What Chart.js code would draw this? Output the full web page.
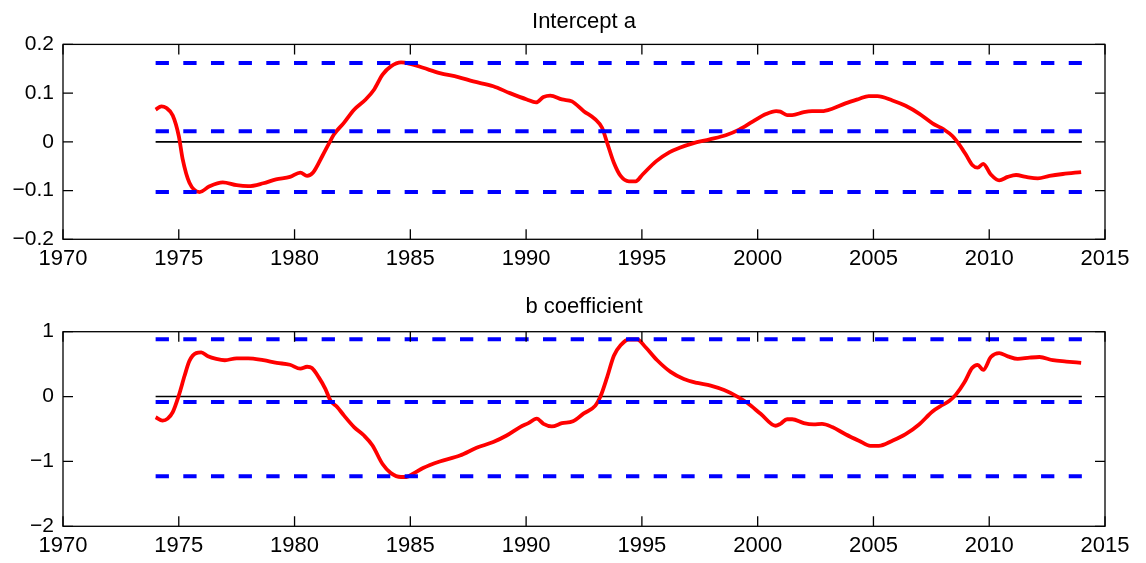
<!DOCTYPE html>
<html lang="en">
<head>
  <meta charset="UTF-8">
  <title>Intercept a / b coefficient</title>
  <script src="https://cdn.jsdelivr.net/npm/chart.js"></script>
  <style>
    body { margin: 0; background: #fff; }
    .panel { position: absolute; left: 0; width: 1146px; }
  </style>
</head>
<body>

  <div class="panel" style="top:0;height:282px"><canvas id="chartA" width="1146" height="282"></canvas></div>
  <div class="panel" style="top:282px;height:281px"><canvas id="chartB" width="1146" height="281"></canvas></div>

<script>
  // time axis
  const xTicks = [1970, 1975, 1980, 1985, 1990, 1995, 2000, 2005, 2010, 2015];
  const lineSpan = [1974, 2014];

  // intercept a
  const aYears = [1974.0, 1974.25, 1974.45, 1974.74, 1975.0, 1975.17, 1975.46, 1975.9, 1976.33, 1976.9,
    1977.5, 1978.0, 1978.65, 1979.2, 1979.8, 1980.25, 1980.54, 1980.8, 1981.2, 1981.5,
    1981.7, 1982.13, 1982.57, 1983.07, 1983.43, 1983.8, 1984.16, 1984.6, 1985.0, 1985.55,
    1986.27, 1987.07, 1987.72, 1988.58, 1989.3, 1990.03, 1990.43, 1990.75, 1991.04, 1991.55,
    1991.98, 1992.49, 1992.99, 1993.28, 1993.5, 1993.79, 1994.08, 1994.44, 1994.73, 1995.03,
    1995.61, 1996.2, 1996.63, 1997.2, 1997.93, 1998.65, 1999.2, 1999.8, 2000.36, 2000.8,
    2000.98, 2001.27, 2001.49, 2001.99, 2002.35, 2002.78, 2003.22, 2003.79, 2004.37, 2004.8,
    2005.17, 2005.82, 2006.39, 2006.97, 2007.55, 2008.05, 2008.41, 2008.7, 2008.99, 2009.28,
    2009.5, 2009.74, 2010.07, 2010.43, 2010.8, 2011.16, 2011.59, 2012.1, 2012.6, 2013.18, 2013.97];
  const aValues = [0.066, 0.073, 0.070, 0.054, 0.012, -0.036, -0.084, -0.103, -0.091, -0.083,
    -0.089, -0.091, -0.085, -0.077, -0.072, -0.063, -0.070, -0.063, -0.029, -0.002,
    0.015, 0.039, 0.066, 0.087, 0.107, 0.138, 0.155, 0.163, 0.160, 0.152,
    0.141, 0.133, 0.124, 0.114, 0.100, 0.087, 0.081, 0.092, 0.095, 0.087,
    0.083, 0.063, 0.046, 0.029, -0.002, -0.043, -0.070, -0.081, -0.081, -0.067,
    -0.040, -0.021, -0.012, -0.003, 0.005, 0.014, 0.025, 0.042, 0.057, 0.063,
    0.062, 0.055, 0.055, 0.061, 0.063, 0.063, 0.068, 0.079, 0.088, 0.094,
    0.094, 0.085, 0.074, 0.058, 0.038, 0.025, 0.012, -0.005, -0.026, -0.048,
    -0.053, -0.045, -0.067, -0.079, -0.072, -0.068, -0.072, -0.075, -0.070, -0.066, -0.062];
  const aBands = [0.162, 0.022, -0.103];
  const aTicks = [-0.2, -0.1, 0, 0.1, 0.2];

  // b coefficient
  const bYears = [1974.0, 1974.3, 1974.52, 1974.74, 1975.0, 1975.25, 1975.46, 1975.75, 1975.97, 1976.26,
    1976.62, 1976.99, 1977.5, 1978.0, 1978.65, 1979.23, 1979.8, 1980.25, 1980.54, 1980.75,
    1981.04, 1981.33, 1981.55, 1981.84, 1982.13, 1982.57, 1983.0, 1983.36, 1983.8, 1984.16,
    1984.6, 1984.83, 1985.12, 1985.55, 1986.27, 1987.14, 1987.86, 1988.58, 1989.16, 1989.74,
    1990.1, 1990.46, 1990.75, 1991.11, 1991.55, 1992.02, 1992.49, 1992.99, 1993.21, 1993.5,
    1993.79, 1994.08, 1994.44, 1994.8, 1995.16, 1995.66, 1996.24, 1996.81, 1997.39, 1997.97,
    1998.55, 1999.12, 1999.56, 2000.14, 2000.77, 2000.98, 2001.27, 2001.49, 2001.99, 2002.42,
    2002.78, 2003.22, 2003.79, 2004.37, 2004.87, 2005.23, 2005.82, 2006.39, 2006.97, 2007.55,
    2007.98, 2008.27, 2008.56, 2008.93, 2009.26, 2009.5, 2009.74, 2010.07, 2010.43, 2010.8,
    2011.23, 2011.74, 2012.17, 2012.75, 2013.33, 2013.97];
  const bValues = [-0.32, -0.37, -0.34, -0.24, 0.015, 0.32, 0.55, 0.67, 0.68, 0.62,
    0.58, 0.56, 0.59, 0.59, 0.56, 0.52, 0.49, 0.43, 0.46, 0.44,
    0.30, 0.12, -0.06, -0.16, -0.29, -0.47, -0.60, -0.75, -1.04, -1.18,
    -1.24, -1.24, -1.19, -1.10, -1.00, -0.91, -0.79, -0.70, -0.60, -0.47,
    -0.41, -0.34, -0.42, -0.46, -0.41, -0.38, -0.26, -0.14, 0.0, 0.30,
    0.63, 0.79, 0.88, 0.88, 0.76, 0.56, 0.38, 0.27, 0.21, 0.17,
    0.10, 0.0, -0.10, -0.27, -0.45, -0.42, -0.35, -0.35, -0.41, -0.43,
    -0.42, -0.47, -0.58, -0.68, -0.76, -0.76, -0.68, -0.58, -0.43, -0.23,
    -0.13, -0.07, 0.03, 0.22, 0.44, 0.49, 0.41, 0.61, 0.67, 0.62,
    0.58, 0.60, 0.61, 0.56, 0.54, 0.52];
  const bBands = [0.883, -0.083, -1.228];
  const bTicks = [-2, -1, 0, 1];

  const fontFamily = '"Liberation Sans", Arial, Helvetica, sans-serif';
  Chart.defaults.font.family = fontFamily;
  Chart.defaults.color = '#000';

  const fmt = v => String(+v.toFixed(2)).replace('-', '\u2212');

  // matlab style frame: box round the plot area, ticks pointing inwards on all four sides,
  // title centred over the plot area (not over the whole canvas)
  const framePlugin = {
    id: 'frame',
    afterDraw(chart) {
      const { ctx, chartArea: a, scales } = chart;
      const opts = chart.options.frame;
      const len = 10;
      ctx.save();
      ctx.strokeStyle = '#000';
      ctx.lineWidth = 1.3;
      ctx.strokeRect(a.left, a.top, a.right - a.left, a.bottom - a.top);
      ctx.beginPath();
      xTicks.forEach(v => {
        const px = scales.x.getPixelForValue(v);
        ctx.moveTo(px, a.bottom); ctx.lineTo(px, a.bottom - len);
        ctx.moveTo(px, a.top); ctx.lineTo(px, a.top + len);
      });
      opts.yTicks.forEach(v => {
        const py = scales.y.getPixelForValue(v);
        ctx.moveTo(a.left, py); ctx.lineTo(a.left + len, py);
        ctx.moveTo(a.right, py); ctx.lineTo(a.right - len, py);
      });
      ctx.stroke();

      ctx.fillStyle = '#000';
      ctx.font = '22px ' + fontFamily;
      ctx.textAlign = 'center';
      ctx.textBaseline = 'alphabetic';
      ctx.fillText(opts.title, (a.left + a.right) / 2, opts.titleBaseline);
      ctx.restore();
    }
  };

  function flatLine(y) {
    return lineSpan.map(x => ({ x: x, y: y }));
  }

  function makeChart(id, title, years, values, bands, yTicks, sizes) {
    const datasets = [];
    datasets.push({
      data: flatLine(0),
      borderColor: '#000',
      borderWidth: 1.6,
      order: 3
    });
    datasets.push({
      data: years.map((x, i) => ({ x: x, y: values[i] })),
      borderColor: '#ff0000',
      borderWidth: 3.8,
      cubicInterpolationMode: 'monotone',
      borderJoinStyle: 'round',
      order: 2
    });
    bands.forEach(b => {
      datasets.push({
        data: flatLine(b),
        borderColor: '#0000ff',
        borderWidth: 4,
        borderDash: [13.3, 14.37],
        borderCapStyle: 'butt',
        order: 1
      });
    });

    return new Chart(document.getElementById(id).getContext('2d'), {
      type: 'line',
      data: { datasets: datasets },
      plugins: [framePlugin],
      options: {
        responsive: false,
        animation: false,
        frame: { yTicks: yTicks, title: title, titleBaseline: sizes.titleBaseline },
        elements: { point: { radius: 0 } },
        layout: { padding: { left: 0, right: 41, top: sizes.top, bottom: 0 } },
        plugins: {
          legend: { display: false },
          tooltip: { enabled: false },
          title: { display: false }
        },
        scales: {
          x: {
            type: 'linear',
            min: xTicks[0],
            max: xTicks[xTicks.length - 1],
            grid: { display: false, drawTicks: false },
            border: { display: false },
            afterBuildTicks: s => { s.ticks = xTicks.map(v => ({ value: v })); },
            afterFit: s => { s.height = sizes.xHeight; },
            ticks: {
              font: { size: 22 },
              padding: 6,
              maxRotation: 0,
              autoSkip: false,
              callback: v => String(v)
            }
          },
          y: {
            min: yTicks[0],
            max: yTicks[yTicks.length - 1],
            grid: { display: false, drawTicks: false },
            border: { display: false },
            afterBuildTicks: s => { s.ticks = yTicks.map(v => ({ value: v })); },
            afterFit: s => { s.width = 63; },
            ticks: {
              font: { size: 21 },
              padding: 9,
              autoSkip: false,
              callback: v => fmt(v)
            }
          }
        }
      }
    });
  }

  makeChart('chartA', 'Intercept a', aYears, aValues, aBands, aTicks,
    { top: 44.4, titleBaseline: 27.7, xHeight: 42.7 });
  makeChart('chartB', 'b coefficient', bYears, bValues, bBands, bTicks,
    { top: 49.7, titleBaseline: 30.7, xHeight: 36.7 });
</script>

</body>
</html>
